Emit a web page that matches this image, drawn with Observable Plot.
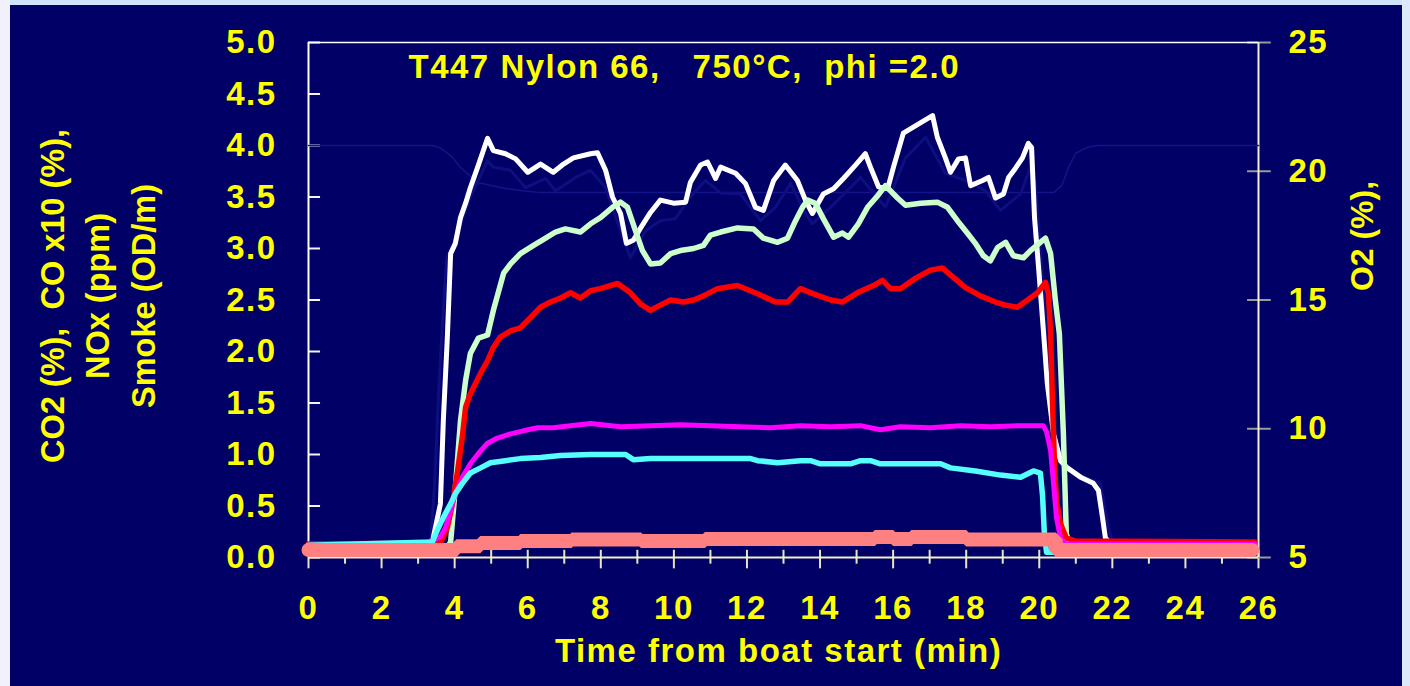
<!DOCTYPE html>
<html><head><meta charset="utf-8">
<script src="https://cdn.jsdelivr.net/npm/d3@7"></script>
<script src="https://cdn.jsdelivr.net/npm/@observablehq/plot@0.6"></script>
<style>
html,body{margin:0;padding:0;background:#000066;}
#wrap{position:relative;width:1410px;height:686px;overflow:hidden;background:#000066;}
.band{position:absolute;}
</style></head><body>
<div id="wrap"><div id="chart"></div>
<div class="band" style="left:0;top:0;width:1410px;height:5px;background:#cfe3fb"></div>
<div class="band" style="left:0;top:0;width:10px;height:686px;background:#f1f0fb"></div>
<div class="band" style="left:1402px;top:0;width:8px;height:686px;background:#dde9fb"></div>
</div>
<script>
// ---- text ----
const titleText = "T447 Nylon 66,   750°C,  phi =2.0";
const xTitle = "Time from boat start (min)";
const leftTitle = "CO2 (%),  CO x10 (%),\nNOx (ppm)\nSmoke (OD/m)";
const rightTitle = "O2 (%),";

// ---- ticks ----
const xTicksMajor = [0,2,4,6,8,10,12,14,16,18,20,22,24,26];
const xTicksMinor = [1,3,5,7,9,11,13,15,17,19,21,23,25];
const yTicks = [0,0.5,1,1.5,2,2.5,3,3.5,4,4.5,5];
const o2Ticks = [5,10,15,20,25];

// ---- series: [time (min), value] ----
const whiteSeries = [[0,0.1],[3.3,0.1],[3.39,0.15],[3.61,0.52],[3.69,1.33],[3.80,2.14],[3.89,2.95],[4.02,3.05],[4.16,3.30],[4.30,3.44],[4.43,3.59],[4.63,3.79],[4.90,4.07],[5.06,3.95],[5.39,3.92],[5.67,3.87],[6.0,3.74],[6.35,3.82],[6.70,3.74],[6.98,3.82],[7.25,3.88],[7.72,3.92],[7.91,3.93],[8.13,3.76],[8.32,3.50],[8.54,3.34],[8.70,3.05],[8.89,3.08],[9.09,3.20],[9.36,3.35],[9.63,3.47],[9.99,3.44],[10.32,3.45],[10.45,3.64],[10.73,3.81],[10.92,3.84],[11.14,3.68],[11.28,3.79],[11.69,3.73],[11.96,3.63],[12.23,3.40],[12.45,3.37],[12.73,3.66],[13.05,3.81],[13.38,3.66],[13.60,3.47],[13.79,3.34],[14.09,3.53],[14.37,3.58],[14.64,3.68],[14.97,3.81],[15.24,3.92],[15.38,3.79],[15.60,3.60],[15.85,3.58],[16.01,3.79],[16.28,4.12],[16.61,4.19],[16.94,4.26],[17.08,4.29],[17.21,4.08],[17.43,3.88],[17.57,3.74],[17.79,3.87],[17.98,3.88],[18.12,3.61],[18.45,3.66],[18.61,3.69],[18.80,3.49],[19.02,3.53],[19.16,3.69],[19.35,3.78],[19.54,3.88],[19.70,4.02],[19.79,3.98],[19.87,3.30],[19.98,2.82],[20.12,2.17],[20.22,1.69],[20.39,1.20],[20.58,0.94],[20.77,0.87],[21.13,0.78],[21.48,0.72],[21.62,0.65],[21.73,0.39],[21.81,0.19],[21.95,0.13],[25.9,0.1]];

const greenSeries = [[0,0.1],[3.8,0.1],[3.89,0.15],[4.02,0.68],[4.16,1.33],[4.30,1.72],[4.43,1.98],[4.65,2.13],[4.90,2.16],[5.06,2.40],[5.34,2.76],[5.53,2.85],[5.80,2.95],[6.16,3.03],[6.49,3.10],[6.76,3.16],[7.03,3.19],[7.44,3.16],[7.72,3.24],[7.99,3.30],[8.32,3.40],[8.54,3.45],[8.73,3.40],[8.95,3.17],[9.14,2.98],[9.36,2.85],[9.63,2.86],[9.91,2.95],[10.18,2.98],[10.54,3.00],[10.81,3.03],[11.0,3.13],[11.28,3.16],[11.74,3.20],[12.18,3.19],[12.45,3.10],[12.84,3.06],[13.11,3.10],[13.33,3.27],[13.52,3.40],[13.66,3.47],[13.87,3.44],[14.09,3.29],[14.37,3.11],[14.61,3.15],[14.78,3.11],[15.05,3.24],[15.30,3.40],[15.57,3.51],[15.79,3.61],[15.93,3.56],[16.12,3.49],[16.34,3.42],[16.75,3.44],[17.21,3.45],[17.49,3.40],[17.76,3.27],[18.03,3.15],[18.25,3.05],[18.47,2.93],[18.66,2.88],[18.86,3.01],[19.08,3.06],[19.29,2.93],[19.57,2.91],[19.76,2.98],[20.03,3.06],[20.17,3.10],[20.31,2.95],[20.44,2.50],[20.55,2.17],[20.66,1.20],[20.74,0.23],[20.85,0.12],[25.9,0.1]];

const redSeries = [[0,0.13],[3.61,0.14],[3.80,0.29],[3.94,0.52],[4.08,0.84],[4.21,1.17],[4.30,1.46],[4.43,1.59],[4.57,1.69],[4.71,1.79],[4.90,1.91],[5.06,2.04],[5.25,2.14],[5.53,2.20],[5.80,2.23],[6.08,2.33],[6.35,2.43],[6.62,2.48],[6.90,2.52],[7.17,2.57],[7.44,2.52],[7.72,2.59],[7.99,2.61],[8.26,2.64],[8.46,2.66],[8.81,2.57],[9.09,2.46],[9.36,2.40],[9.63,2.45],[9.91,2.50],[10.26,2.48],[10.54,2.50],[10.81,2.54],[11.19,2.61],[11.74,2.64],[12.29,2.56],[12.78,2.48],[13.11,2.48],[13.46,2.61],[13.82,2.56],[14.29,2.50],[14.61,2.48],[15.02,2.57],[15.46,2.64],[15.71,2.69],[15.93,2.61],[16.20,2.61],[16.61,2.71],[17.02,2.79],[17.35,2.81],[17.65,2.72],[17.98,2.62],[18.39,2.54],[18.80,2.48],[19.08,2.45],[19.40,2.43],[19.68,2.50],[19.95,2.57],[20.17,2.67],[20.25,2.56],[20.31,2.17],[20.36,1.52],[20.42,0.87],[20.47,0.55],[20.58,0.33],[20.74,0.19],[20.99,0.16],[25.9,0.15]];

const magentaSeries = [[0,0.12],[3.15,0.13],[3.61,0.2],[3.75,0.29],[3.89,0.46],[4.02,0.62],[4.21,0.78],[4.43,0.91],[4.65,1.01],[4.90,1.11],[5.17,1.16],[5.53,1.20],[5.88,1.23],[6.27,1.26],[6.70,1.26],[7.17,1.28],[7.72,1.30],[8.54,1.27],[9.36,1.28],[10.18,1.29],[11.0,1.28],[11.82,1.27],[12.64,1.26],[13.46,1.28],[14.29,1.27],[15.11,1.28],[15.65,1.24],[16.20,1.27],[17.02,1.26],[17.84,1.28],[18.66,1.27],[19.49,1.28],[20.11,1.28],[20.20,1.22],[20.31,1.04],[20.39,0.72],[20.47,0.39],[20.58,0.19],[20.74,0.13],[25.9,0.13]];

const cyanSeries = [[0,0.12],[3.39,0.15],[3.48,0.23],[3.61,0.33],[3.75,0.43],[3.89,0.52],[4.02,0.62],[4.21,0.72],[4.43,0.82],[4.71,0.87],[4.98,0.92],[5.39,0.94],[5.80,0.96],[6.35,0.97],[6.90,0.99],[7.72,1.0],[8.68,1.0],[8.89,0.95],[9.36,0.96],[10.73,0.96],[12.10,0.96],[12.29,0.94],[12.84,0.92],[13.46,0.94],[13.74,0.94],[14.01,0.91],[14.83,0.91],[15.11,0.94],[15.38,0.94],[15.65,0.91],[17.30,0.91],[17.57,0.87],[18.25,0.84],[18.94,0.80],[19.49,0.78],[19.84,0.84],[20.03,0.82],[20.09,0.60],[20.14,0.23],[20.20,0.05],[25.9,0.05]];

const navySeries = [[0,0.1],[3.34,0.15],[3.45,0.7],[3.56,1.6],[3.67,2.3],[3.78,2.9],[4.02,3.1],[4.43,3.5],[4.90,3.85],[5.06,3.79],[5.53,3.76],[5.94,3.59],[6.49,3.68],[6.76,3.56],[7.31,3.69],[7.72,3.76],[8.13,3.59],[8.54,3.17],[8.81,2.91],[9.22,3.17],[9.63,3.27],[10.04,3.29],[10.45,3.50],[10.86,3.66],[11.28,3.54],[11.82,3.53],[12.37,3.27],[12.78,3.40],[13.19,3.63],[13.60,3.34],[13.79,3.24],[14.29,3.40],[15.11,3.69],[15.79,3.40],[16.34,3.88],[16.89,4.08],[17.43,3.73],[17.98,3.66],[18.53,3.56],[18.94,3.37],[19.49,3.53],[19.76,3.79],[19.90,3.63],[20.03,3.0],[20.31,1.5],[20.58,0.9],[21.13,0.8],[21.67,0.72],[21.89,0.3],[22.0,0.15],[25.9,0.1]];

const o2Series = [[0,21],[3.4,21],[3.61,20.9],[3.9,20.6],[4.16,20.15],[4.63,19.56],[5.25,19.37],[5.8,19.25],[6.35,19.17],[20.4,19.17],[20.62,19.45],[20.8,20.15],[21.0,20.7],[21.3,20.92],[21.6,21],[26,21]];

const smokeSeries = [[0,0.073],[4.05,0.11],[4.7,0.14],[5.8,0.16],[7.2,0.175],[9.1,0.16],[10.85,0.18],[15.5,0.2],[16.0,0.18],[16.5,0.2],[18.0,0.175],[20.45,0.073],[25.83,0.073]];

// O2 (right axis 5..25) mapped onto the left axis (0..5)
const toLeft = o => (o - 5) / 4;
const fromLeft = v => v * 4 + 5;

const line = (data, stroke, strokeWidth, extra = {}) =>
  Plot.line(data, {x: d => d[0], y: d => d[1], stroke, strokeWidth, strokeLinejoin: "round", ...extra});

const chart = Plot.plot({
  width: 1410, height: 686,
  marginLeft: 308, marginRight: 152, marginTop: 42, marginBottom: 129,
  x: {domain: [0, 26]},
  y: {domain: [0, 5]},
  style: {background: "transparent", color: "#ffff00", fontFamily: "'Liberation Sans', Arial, sans-serif",
          fontWeight: "bold", fontSize: "33px", letterSpacing: "1.5px", overflow: "visible"},
  marks: [
    Plot.ruleX(xTicksMajor, {x: d => d, y1: 0.07, y2: -0.11, stroke: "#e6e6bf", strokeWidth: 2}),
    Plot.ruleX(xTicksMinor, {x: d => d, y1: 0.07, y2: -0.065, stroke: "#e6e6bf", strokeWidth: 2}),
    Plot.ruleY(yTicks, {y: d => d, x1: 0, x2: 0.33, stroke: "#f4f4f4", strokeWidth: 2}),
    Plot.ruleY(o2Ticks, {y: d => toLeft(d), x1: 25.7, x2: 26.35, stroke: "#9a9a9a", strokeWidth: 2}),
    Plot.ruleY([5], {stroke: "#ffffff", strokeWidth: 1.5}),
    Plot.ruleY([0], {stroke: "#f0f0d0", strokeWidth: 2}),
    Plot.ruleX([0], {stroke: "#ffffff", strokeWidth: 2}),
    Plot.ruleX([26], {stroke: "#f0f0d0", strokeWidth: 2}),
    Plot.axisX(xTicksMajor, {anchor: "bottom", tickSize: 0, tickPadding: 38, label: null}),
    Plot.axisY(yTicks, {anchor: "left", tickSize: 0, tickPadding: 32, tickFormat: d => d.toFixed(1), label: null}),
    Plot.axisY(o2Ticks.map(toLeft), {anchor: "right", tickSize: 0, tickPadding: 30, tickFormat: d => String(Math.round(fromLeft(d))), label: null}),
    Plot.line(o2Series, {x: d => d[0], y: d => toLeft(d[1]), stroke: "#141489", strokeWidth: 1.5}),
    line(navySeries, "#0e0e80", 3),
    line(whiteSeries, "#ffffff", 5),
    line(greenSeries, "#ccffcc", 5.5),
    line(redSeries, "#ff0000", 5.5),
    line(magentaSeries, "#ff00ff", 5),
    line(cyanSeries, "#55ffff", 5.5),
    line(smokeSeries, "#ff8080", 14, {curve: "step-after", strokeLinejoin: "miter"}),
    Plot.text([titleText], {frameAnchor: "top-left", dx: 100, dy: 25, textAnchor: "start", lineAnchor: "middle", fill: "#ffff00"}),
    Plot.text([xTitle], {frameAnchor: "bottom", dx: -5, dy: 94, lineAnchor: "middle", fill: "#ffff00"}),
    Plot.text([leftTitle], {frameAnchor: "left", rotate: -90, textAnchor: "middle", dx: -214, dy: -4, lineAnchor: "middle", lineHeight: 1.4, fontSize: 32.5, fill: "#ffff00"}),
    Plot.text([rightTitle], {frameAnchor: "right", rotate: -90, textAnchor: "middle", dx: 104, dy: -64, lineAnchor: "middle", fontSize: 32, fill: "#ffff00"})
  ]
});
// the rotated axis titles use normal letter spacing
d3.select(chart).selectAll("text").filter(function () {
  const t = this.textContent;
  return t.includes("NOx") || t === rightTitle;
}).style("letter-spacing", "0px");
document.getElementById("chart").appendChild(chart);
</script>
</body></html>
